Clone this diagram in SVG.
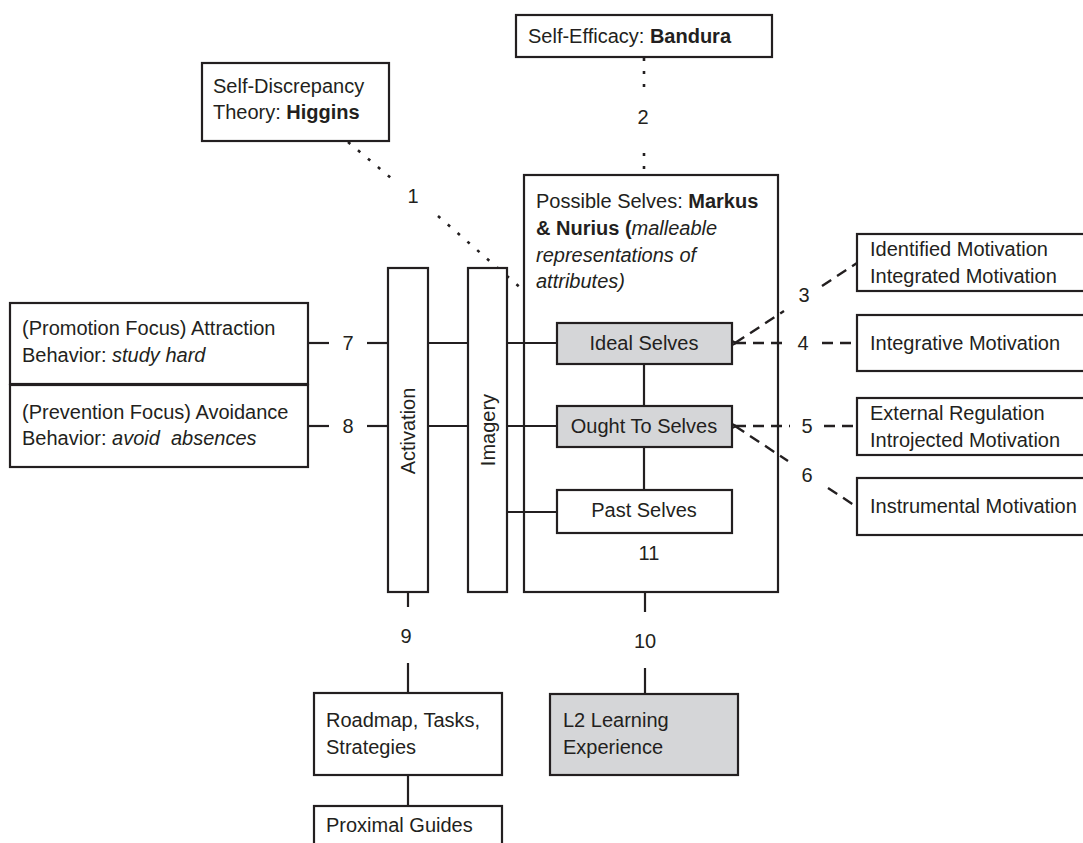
<svg xmlns="http://www.w3.org/2000/svg" width="1083" height="843" viewBox="0 0 1083 843">
  <defs>
    <style>
      text { font-family: "Liberation Sans", Arial, Helvetica, sans-serif; font-size: 20px; fill: #231f20; }
      .b { font-weight: bold; }
      .i { font-style: italic; }
      .mid { text-anchor: middle; }
      .box { fill: #ffffff; stroke: #231f20; stroke-width: 2.2; }
      .frame { fill: none; stroke: #231f20; stroke-width: 2.2; }
      .grey { fill: #d5d6d8; stroke: #231f20; stroke-width: 2.2; }
      .solid { fill: none; stroke: #231f20; stroke-width: 2.2; }
      .dot { fill: none; stroke: #231f20; stroke-width: 2.6; stroke-dasharray: 3 10; }
      .dash { fill: none; stroke: #231f20; stroke-width: 2.4; stroke-dasharray: 11 7; }
    </style>
    <marker id="tip" viewBox="0 0 10 10" refX="1" refY="5" markerWidth="4" markerHeight="4" orient="auto-start-reverse" markerUnits="strokeWidth">
      <path d="M10,0 L0,5 L10,10" fill="none" stroke="#231f20" stroke-width="2.5"/>
    </marker>
  </defs>
  <rect width="1083" height="843" fill="#ffffff"/>

  <!-- Possible Selves frame sits behind the links that cross it -->
  <g id="possible-selves">
    <rect class="frame" x="524" y="175" width="254" height="417"/>
    <text x="536" y="208">Possible Selves: <tspan class="b">Markus</tspan></text>
    <text x="536" y="235"><tspan class="b">&amp; Nurius (</tspan><tspan class="i">malleable</tspan></text>
    <text x="536" y="262" class="i">representations of</text>
    <text x="536" y="288" class="i">attributes)</text>
  </g>

  <!-- connectors -->
  <g id="connectors">
    <!-- 1: Higgins to Possible Selves (dotted) -->
    <line class="dot" x1="348" y1="142" x2="391" y2="178"/>
    <line class="dot" x1="438" y1="216" x2="523" y2="290"/>
    <!-- 2: Bandura to Possible Selves (dotted) -->
    <line class="dot" x1="644" y1="58" x2="644" y2="90"/>
    <line class="dot" x1="644" y1="153" x2="644" y2="175"/>
    <!-- 3, 4: Ideal Selves to motivation boxes (dashed) -->
    <line class="dash" x1="735" y1="343" x2="784" y2="311"/>
    <line class="dash" x1="822" y1="286" x2="857" y2="263"/>
    <line class="dash" x1="735" y1="343" x2="786" y2="343" marker-start="url(#tip)"/>
    <line class="dash" x1="822" y1="343" x2="857" y2="343"/>
    <!-- 5, 6: Ought To Selves to motivation boxes (dashed) -->
    <line class="dash" x1="735" y1="426" x2="790" y2="426" marker-start="url(#tip)"/>
    <line class="dash" x1="824" y1="426" x2="857" y2="426"/>
    <line class="dash" x1="735" y1="426" x2="788" y2="461"/>
    <line class="dash" x1="828" y1="488" x2="857" y2="507"/>
    <!-- 7: promotion focus row -->
    <line class="solid" x1="308" y1="343" x2="329" y2="343"/>
    <line class="solid" x1="367" y1="343" x2="388" y2="343"/>
    <line class="solid" x1="428" y1="343" x2="468" y2="343"/>
    <line class="solid" x1="507" y1="343" x2="557" y2="343"/>
    <!-- 8: prevention focus row -->
    <line class="solid" x1="308" y1="426" x2="329" y2="426"/>
    <line class="solid" x1="367" y1="426" x2="388" y2="426"/>
    <line class="solid" x1="428" y1="426" x2="468" y2="426"/>
    <line class="solid" x1="507" y1="426" x2="557" y2="426"/>
    <!-- imagery to past selves -->
    <line class="solid" x1="507" y1="512" x2="557" y2="512"/>
    <!-- links between the selves -->
    <line class="solid" x1="644" y1="364" x2="644" y2="406"/>
    <line class="solid" x1="644" y1="447" x2="644" y2="490"/>
    <!-- 9: activation to roadmap -->
    <line class="solid" x1="408" y1="592" x2="408" y2="607"/>
    <line class="solid" x1="408" y1="663" x2="408" y2="693"/>
    <line class="solid" x1="408" y1="775" x2="408" y2="806"/>
    <!-- 10: possible selves to L2 learning experience -->
    <line class="solid" x1="645" y1="592" x2="645" y2="612"/>
    <line class="solid" x1="645" y1="668" x2="645" y2="694"/>
  </g>

  <!-- connector labels -->
  <g id="labels">
    <text class="mid" x="413" y="203">1</text>
    <text class="mid" x="643" y="124">2</text>
    <text class="mid" x="804" y="302">3</text>
    <text class="mid" x="803" y="350">4</text>
    <text class="mid" x="807" y="433">5</text>
    <text class="mid" x="807" y="482">6</text>
    <text class="mid" x="348" y="350">7</text>
    <text class="mid" x="348" y="433">8</text>
    <text class="mid" x="406" y="643">9</text>
    <text class="mid" x="645" y="648">10</text>
    <text class="mid" x="649" y="560">11</text>
  </g>

  <g id="self-efficacy">
    <rect class="box" x="516" y="15" width="256" height="42"/>
    <text x="528" y="43">Self-Efficacy: <tspan class="b">Bandura</tspan></text>
  </g>

  <g id="self-discrepancy">
    <rect class="box" x="202" y="63" width="187" height="78"/>
    <text x="213" y="93">Self-Discrepancy</text>
    <text x="213" y="119">Theory: <tspan class="b">Higgins</tspan></text>
  </g>

  <g id="activation">
    <rect class="box" x="388" y="268" width="40" height="324"/>
    <text class="mid" transform="translate(414.5,431) rotate(-90)">Activation</text>
  </g>

  <g id="imagery">
    <rect class="box" x="468" y="268" width="39" height="324"/>
    <text class="mid" transform="translate(494.5,430) rotate(-90)">Imagery</text>
  </g>

  <g id="ideal-selves">
    <rect class="grey" x="557" y="323" width="175" height="41"/>
    <text class="mid" x="644" y="350">Ideal Selves</text>
  </g>

  <g id="ought-to-selves">
    <rect class="grey" x="557" y="406" width="175" height="41"/>
    <text class="mid" x="644" y="433">Ought To Selves</text>
  </g>

  <g id="past-selves">
    <rect class="box" x="557" y="490" width="175" height="43"/>
    <text class="mid" x="644" y="517">Past Selves</text>
  </g>

  <g id="promotion-focus">
    <rect class="box" x="10" y="303" width="298" height="81"/>
    <text x="22" y="335">(Promotion Focus) Attraction</text>
    <text x="22" y="362">Behavior: <tspan class="i">study hard</tspan></text>
  </g>

  <g id="prevention-focus">
    <rect class="box" x="10" y="385" width="298" height="82"/>
    <text x="22" y="419">(Prevention Focus) Avoidance</text>
    <text x="22" y="445" xml:space="preserve">Behavior: <tspan class="i">avoid  absences</tspan></text>
  </g>

  <g id="identified-motivation">
    <rect class="box" x="857" y="234" width="240" height="57"/>
    <text x="870" y="256">Identified Motivation</text>
    <text x="870" y="283">Integrated Motivation</text>
  </g>

  <g id="integrative-motivation">
    <rect class="box" x="857" y="315" width="240" height="56"/>
    <text x="870" y="350">Integrative Motivation</text>
  </g>

  <g id="external-regulation">
    <rect class="box" x="857" y="398" width="240" height="57"/>
    <text x="870" y="420">External Regulation</text>
    <text x="870" y="447">Introjected Motivation</text>
  </g>

  <g id="instrumental-motivation">
    <rect class="box" x="857" y="478" width="240" height="57"/>
    <text x="870" y="513">Instrumental Motivation</text>
  </g>

  <g id="roadmap">
    <rect class="box" x="314" y="693" width="188" height="82"/>
    <text x="326" y="727">Roadmap, Tasks,</text>
    <text x="326" y="754">Strategies</text>
  </g>

  <g id="l2-learning-experience">
    <rect class="grey" x="550" y="694" width="188" height="81"/>
    <text x="563" y="727">L2 Learning</text>
    <text x="563" y="754">Experience</text>
  </g>

  <g id="proximal-guides">
    <rect class="box" x="314" y="806" width="188" height="60"/>
    <text x="326" y="832">Proximal Guides</text>
  </g>
</svg>
